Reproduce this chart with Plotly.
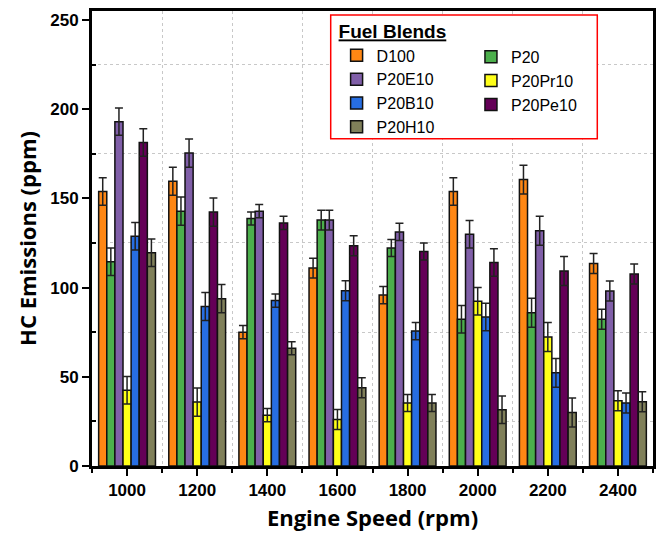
import plotly.graph_objects as go

speeds = [1000, 1200, 1400, 1600, 1800, 2000, 2200, 2400]

d100 = [153.8, 159.6, 75.0, 110.9, 95.8, 153.8, 160.5, 113.5]
p20 = [114.5, 142.8, 138.7, 137.8, 122.2, 82.2, 85.9, 82.2]
p20e10 = [193.0, 175.4, 142.8, 137.8, 131.2, 129.9, 131.8, 98.1]
p20pr10 = [42.5, 35.8, 28.5, 26.1, 35.3, 92.3, 72.3, 36.6]
p20b10 = [128.8, 89.4, 92.7, 98.2, 75.6, 83.5, 52.2, 35.3]
p20pe10 = [181.3, 142.3, 136.2, 123.4, 120.2, 114.1, 109.3, 107.6]
p20h10 = [119.5, 93.8, 66.0, 43.8, 35.3, 31.5, 30.0, 36.0]

# standard deviation per engine speed
errors = [7.7, 7.9, 3.7, 5.6, 4.8, 7.7, 8.1, 5.6]

series = [
    ("D100", d100, "#FF8714", "legend"),
    ("P20", p20, "#4CAF4C", "legend2"),
    ("P20E10", p20e10, "#805FA8", "legend"),
    ("P20Pr10", p20pr10, "#FFFF19", "legend2"),
    ("P20B10", p20b10, "#276EE2", "legend"),
    ("P20Pe10", p20pe10, "#640057", "legend2"),
    ("P20H10", p20h10, "#80805A", "legend"),
]

fig = go.Figure()
for name, vals, color, leg in series:
    fig.add_trace(go.Bar(
        x=speeds, y=vals, name=name, legend=leg,
        marker=dict(color=color, line=dict(color="#111111", width=1.5)),
        error_y=dict(type="data", array=errors, symmetric=True,
                     color="#222222", thickness=1.5, width=4),
    ))

tickfont = dict(family="Liberation Sans", size=17, color="black", weight="bold")
titlefont = dict(family="Open Sans", size=22, color="black", weight="bold")
legfont = dict(family="Liberation Sans", size=16, color="black")

fig.update_layout(
    width=664, height=536,
    margin=dict(l=92, r=8, t=10, b=70),
    paper_bgcolor="white", plot_bgcolor="white",
    barmode="group", bargap=0.19, bargroupgap=0,
    showlegend=True,
    xaxis=dict(
        range=[900, 2500], tickmode="array", tickvals=speeds,
        ticks="outside", ticklen=7, tickwidth=2, tickcolor="black",
        showline=True, linewidth=3, linecolor="black", mirror=True,
        showgrid=False, zeroline=False, tickfont=tickfont,
        minor=dict(dtick=200, tick0=1100, ticks="outside", ticklen=4,
                   tickwidth=1.5, tickcolor="black", showgrid=True,
                   gridcolor="#c8c8c8", griddash="dot", gridwidth=1),
        title=dict(text="Engine Speed (rpm)", font=titlefont, standoff=12),
    ),
    yaxis=dict(
        range=[0, 255], tick0=0, dtick=50,
        ticks="outside", ticklen=7, tickwidth=2, tickcolor="black",
        showline=True, linewidth=3, linecolor="black", mirror=True,
        showgrid=False, zeroline=False, tickfont=tickfont,
        minor=dict(dtick=50, tick0=25, ticks="inside", ticklen=4,
                   tickwidth=1.5, tickcolor="black", showgrid=True,
                   gridcolor="#c8c8c8", griddash="dot", gridwidth=1),
        title=dict(text="HC Emissions (ppm)", font=titlefont, standoff=8),
    ),
    legend=dict(
        x=0.436, y=0.994, xanchor="left", yanchor="top",
        bgcolor="rgba(0,0,0,0)", borderwidth=0, font=legfont,
        tracegroupgap=0,
        title=dict(text="<b><u>Fuel Blends</u></b>",
                   font=dict(family="Liberation Sans", size=19, color="black")),
    ),
    legend2=dict(
        x=0.6755, y=0.9365, xanchor="left", yanchor="top",
        bgcolor="rgba(0,0,0,0)", borderwidth=0, font=legfont,
        tracegroupgap=0,
    ),
    shapes=[dict(type="rect", xref="paper", yref="paper",
                 x0=0.4255, x1=0.9007, y0=0.719, y1=0.991,
                 line=dict(color="#FF0000", width=1.5),
                 fillcolor="white", layer="above")],
)

fig.write_html("out.html")
